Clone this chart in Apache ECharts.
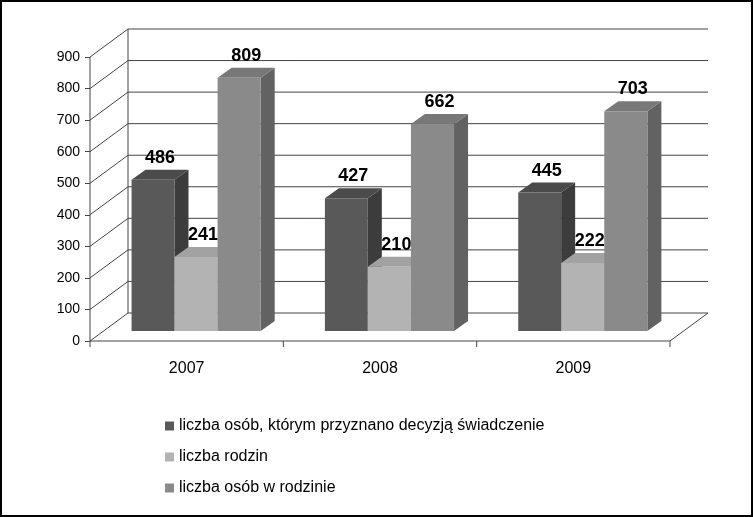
<!DOCTYPE html>
<html><head><meta charset="utf-8">
<script src="https://cdn.jsdelivr.net/npm/echarts@6/dist/echarts.min.js"></script>
<style>html,body{margin:0;padding:0;background:#fff}#c{width:753px;height:517px}</style>
</head><body><div id="c"></div>
<script>
const categories = ['2007','2008','2009'];
const seriesNames = ['liczba osób, którym przyznano decyzją świadczenie','liczba rodzin','liczba osób w rodzinie'];
const values1 = [486, 427, 445];
const values2 = [241, 210, 222];
const values3 = [809, 662, 703];
const yTicks = [0,100,200,300,400,500,600,700,800,900];

const DX = 38, DY = -28;
const BX = 14, BY = -10;
const colors = [
  {front:'#595959', side:'#3c3c3c', top:'#4b4b4b'},
  {front:'#b3b3b3', side:'#8e8e8e', top:'#a2a2a2'},
  {front:'#8a8a8a', side:'#626262', top:'#787878'}
];
const offs = [[-0.285,-0.063],[-0.063,0.16],[0.16,0.383]];

function wallItem(params, api){
  const v = api.value(0);
  const band = api.size([1,0])[0];
  const p0 = api.coord([0, v]); const p2 = api.coord([2, v]);
  const x0 = p0[0]-band/2, x1 = p2[0]+band/2, y = p0[1];
  const children = [{type:'polyline', shape:{points:[[x0,y],[x0+DX,y+DY],[x1+DX,y+DY]]}, style:{stroke:'#444',lineWidth:1,fill:null}, silent:true}];
  if (v === 0) {
    children.push({type:'polyline', shape:{points:[[x0,y],[x1,y],[x1+DX,y+DY]]}, style:{stroke:'#444',lineWidth:1,fill:null}});
    const t = api.coord([0, 900])[1];
    children.push({type:'line', shape:{x1:x0+DX,y1:y+DY,x2:x0+DX,y2:t+DY}, style:{stroke:'#444',lineWidth:1}});
    children.push({type:'line', shape:{x1:x0,y1:y,x2:x0,y2:t}, style:{stroke:'#444',lineWidth:1}});
    for (let i=0;i<=3;i++){
      const xx = x0 + band*i;
      children.push({type:'line', shape:{x1:xx,y1:y,x2:xx,y2:y+6}, style:{stroke:'#444',lineWidth:1}});
    }
  }
  return {type:'group', children};
}

function makeBar(k){
  return function(params, api){
    const ci = api.value(0), v = api.value(1);
    const band = api.size([1,0])[0];
    const c = api.coord([ci, v]); const b = api.coord([ci, 0]);
    const xl = c[0] + offs[k][0]*band, xr = c[0] + offs[k][1]*band;
    const yt = c[1] - 8, yb = b[1] - 10;
    const col = colors[k];
    return {type:'group', children:[
      {type:'polygon', shape:{points:[[xr,yb],[xr+BX,yb+BY],[xr+BX,yt+BY],[xr,yt]]}, style:{fill:col.side}},
      {type:'polygon', shape:{points:[[xl,yt],[xr,yt],[xr+BX,yt+BY],[xl+BX,yt+BY]]}, style:{fill:col.top}},
      {type:'rect', shape:{x:xl,y:yt,width:xr-xl,height:yb-yt}, style:{fill:col.front}},
      {type:'text', style:{text:String(v), x:(xl+xr)/2+BX/2, y:yt+BY-3, align:'center', verticalAlign:'bottom', font:'bold 18px Arial, "Liberation Sans", sans-serif', fill:'#000'}}
    ]};
  };
}

const valArr = [values1, values2, values3];
const chart = echarts.init(document.getElementById('c'));
chart.setOption({
  animation:false,
  backgroundColor:'#fff',
  graphic:[{type:'rect', shape:{x:1,y:1,width:751,height:515}, style:{fill:null, stroke:'#000', lineWidth:2}, z:100}],
  grid:{left:90, right:83, top:57, bottom:176},
  xAxis:{type:'category', data:categories, axisLine:{show:false}, axisTick:{show:false},
    axisLabel:{fontSize:16, color:'#000', fontFamily:'Arial', margin:20}},
  yAxis:{type:'value', min:0, max:900, interval:100, splitLine:{show:false}, axisLine:{show:false},
    axisTick:{show:true, length:5, lineStyle:{color:'#444'}},
    axisLabel:{fontSize:14, color:'#000', fontFamily:'Arial', margin:10}},
  legend:{orient:'vertical', left:160, top:413, itemGap:15, itemWidth:9, itemHeight:9, icon:'rect',
    textStyle:{fontSize:16, color:'#000', fontFamily:'Arial'}, data:seriesNames},
  series:[
    {type:'custom', renderItem:wallItem, data:yTicks.map(v=>[v]), silent:true, z:1, encode:{y:0}},
  ].concat(valArr.map((vals,k)=>({
    type:'custom', name:seriesNames[k], itemStyle:{color:colors[k].front}, z:2,
    renderItem:makeBar(k), data:vals.map((v,i)=>[i,v]), encode:{x:0,y:1}
  })))
});
</script></body></html>
